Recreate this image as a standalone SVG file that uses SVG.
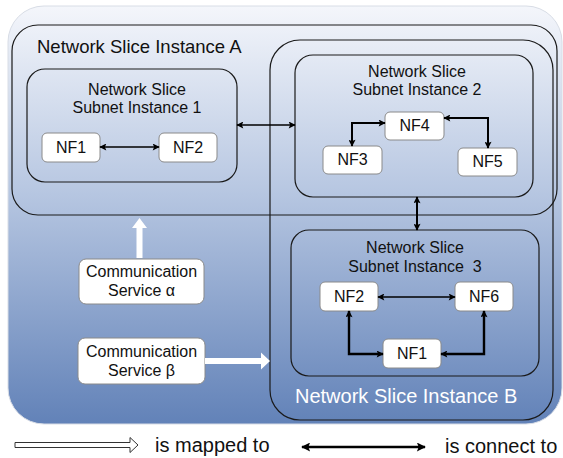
<svg xmlns="http://www.w3.org/2000/svg" width="563" height="458" viewBox="0 0 563 458">
<defs>
  <linearGradient id="bg" x1="0" y1="0" x2="0" y2="1">
    <stop offset="0" stop-color="#f4f6fb"/>
    <stop offset="0.45" stop-color="#b6c6e1"/>
    <stop offset="1" stop-color="#6282b8"/>
  </linearGradient>
  <marker id="ah" viewBox="0 0 10 10" refX="9" refY="5" markerWidth="8" markerHeight="7" markerUnits="userSpaceOnUse" orient="auto-start-reverse">
    <path d="M0,0 L10,5 L0,10 L2,5 Z" fill="#000"/>
  </marker>
  <marker id="ahL" viewBox="0 0 10 10" refX="9" refY="5" markerWidth="13" markerHeight="9" markerUnits="userSpaceOnUse" orient="auto-start-reverse">
    <path d="M0,0 L10,5 L0,10 L2,5 Z" fill="#000"/>
  </marker>
</defs>
<style>
  text { font-family: "Liberation Sans", Arial, sans-serif; fill: #111; }
  .inst { fill: none; stroke: #1a1a1a; stroke-width: 1.2; }
  .nssi { fill: none; stroke: #1a1a1a; stroke-width: 1.2; }
  .nf { fill: #fff; stroke: #8a8a8a; stroke-width: 1; }
  .title { font-size: 16px; text-anchor: middle; }
  .nft { font-size: 16px; text-anchor: middle; }
  .conn { fill: none; stroke: #000; stroke-width: 2; marker-start: url(#ah); marker-end: url(#ah); }
  .map { fill: #fff; stroke: none; }
</style>

<g id="background">
  <rect x="8" y="6" width="554" height="418" rx="36" fill="url(#bg)" stroke="#d8dde6" stroke-width="1"/>
</g>

<g id="nsi-a">
  <rect class="inst" x="12" y="25" width="545" height="190" rx="26"/>
  <text x="37" y="53" style="font-size:18.5px">Network Slice Instance A</text>
</g>

<g id="nsi-b">
  <rect class="inst" x="270" y="40" width="283" height="380" rx="30"/>
  <text x="295" y="403" style="font-size:20px;fill:#fff">Network Slice Instance B</text>
</g>

<g id="nssi1">
  <rect class="nssi" x="27" y="69" width="210" height="113" rx="18"/>
  <text class="title" x="137" y="95">Network Slice</text>
  <text class="title" x="137" y="113">Subnet Instance 1</text>
</g>
<g id="nssi1-nf1">
  <rect class="nf" x="42" y="133" width="58" height="29" rx="5"/>
  <text class="nft" x="71" y="153">NF1</text>
</g>
<g id="nssi1-nf2">
  <rect class="nf" x="159" y="133" width="58" height="29" rx="5"/>
  <text class="nft" x="188" y="153">NF2</text>
</g>

<g id="nssi2">
  <rect class="nssi" x="295" y="55" width="238" height="142" rx="18"/>
  <text class="title" x="417" y="77">Network Slice</text>
  <text class="title" x="417" y="95">Subnet Instance 2</text>
</g>
<g id="nssi2-nf4">
  <rect class="nf" x="385" y="112" width="59" height="28" rx="5"/>
  <text class="nft" x="414.5" y="131">NF4</text>
</g>
<g id="nssi2-nf3">
  <rect class="nf" x="323" y="146" width="59" height="28" rx="5"/>
  <text class="nft" x="352.5" y="165">NF3</text>
</g>
<g id="nssi2-nf5">
  <rect class="nf" x="458" y="148" width="59" height="28" rx="5"/>
  <text class="nft" x="487.5" y="167">NF5</text>
</g>

<g id="nssi3">
  <rect class="nssi" x="291" y="230" width="248" height="146" rx="18"/>
  <text class="title" x="415" y="253">Network Slice</text>
  <text class="title" x="415" y="272" xml:space="preserve">Subnet Instance  3</text>
</g>
<g id="nssi3-nf2">
  <rect class="nf" x="320" y="282" width="58" height="29" rx="5"/>
  <text class="nft" x="349" y="302">NF2</text>
</g>
<g id="nssi3-nf6">
  <rect class="nf" x="455" y="282" width="58" height="29" rx="5"/>
  <text class="nft" x="484" y="302">NF6</text>
</g>
<g id="nssi3-nf1">
  <rect class="nf" x="383" y="339" width="58" height="29" rx="5"/>
  <text class="nft" x="412" y="359">NF1</text>
</g>

<g id="cs-alpha">
  <rect class="nf" x="79" y="259" width="125" height="45" rx="7"/>
  <text class="title" x="141.5" y="277">Communication</text>
  <text class="title" x="141.5" y="296">Service α</text>
</g>
<g id="cs-beta">
  <rect class="nf" x="78" y="338" width="127" height="46" rx="7"/>
  <text class="title" x="141.5" y="357">Communication</text>
  <text class="title" x="141.5" y="376">Service β</text>
</g>

<g id="connectors">
  <line class="conn" x1="100" y1="147" x2="159" y2="147" style="stroke-width:1.6"/>
  <line class="conn" x1="237" y1="125" x2="295" y2="125" style="stroke-width:1.6"/>
  <polyline class="conn" points="385,123 352,123 352,146"/>
  <polyline class="conn" points="444,118 488,118 488,148"/>
  <line class="conn" x1="417" y1="197" x2="417" y2="230"/>
  <line class="conn" x1="378" y1="297" x2="455" y2="297" style="stroke-width:1.6"/>
  <polyline class="conn" points="349,311 349,354 383,354" style="stroke-width:2.4"/>
  <polyline class="conn" points="484,311 484,354 441,354" style="stroke-width:2.4"/>
  <polygon class="map" points="136.5,258 136.5,228 132,228 139.5,218 147,228 142.5,228 142.5,258"/>
  <polygon class="map" points="205,358 261,358 261,352.5 270,361 261,369.5 261,364 205,364"/>
</g>

<g id="legend">
  <polygon points="15,442.5 130,442.5 130,437.5 138,445 130,452.5 130,447.5 15,447.5" fill="#fff" stroke="#333" stroke-width="1"/>
  <text x="155" y="452" style="font-size:20px">is mapped to</text>
  <line x1="302" y1="447" x2="425" y2="447" stroke="#000" stroke-width="2.5" marker-start="url(#ahL)" marker-end="url(#ahL)"/>
  <text x="445" y="453" style="font-size:20px">is connect to</text>
</g>
</svg>
